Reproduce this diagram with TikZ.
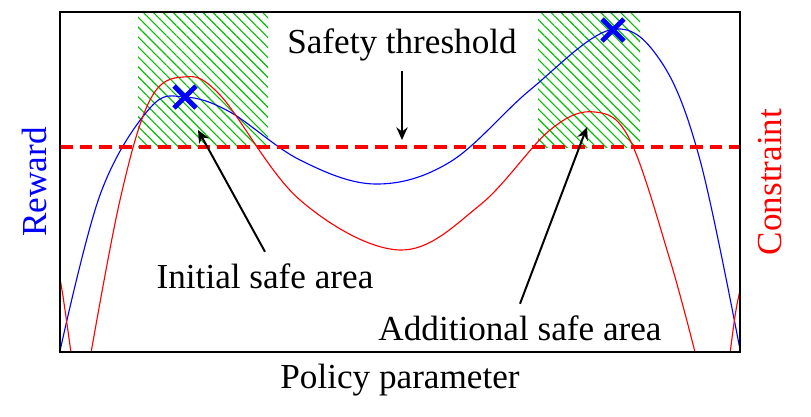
\documentclass[tikz,border=0pt]{standalone}
\usepackage{fontspec}
\setmainfont{Liberation Serif}
\usetikzlibrary{arrows.meta, patterns.meta}

\begin{document}
\begin{tikzpicture}[
        x=0.025cm, y=-0.025cm,
        label/.style={font=\fontsize{25}{29}\selectfont, inner sep=1pt},
        arrow/.style={-{Stealth[length=9pt,width=8pt]}, line width=1.4pt},
        safe/.style={pattern={Lines[angle=-45,distance=5pt,line width=0.8pt]}, pattern color=green!75!black},
        marker/.style={blue, line width=3.5pt}
    ]
        \useasboundingbox (0,0) rectangle (811,416);

        % --- Safe areas ---
        \fill[safe] (138,12) rectangle (268,147);
        \fill[safe] (538,12) rectangle (640,147);

        % --- Curves ---
        \begin{scope}
            \clip (60,12) rectangle (740,352);
            \draw[blue, thick] plot[smooth, tension=0.6] coordinates {(58,360) (100,195) (150,108) (185,97) (230,112) (300,160) (375,184) (450,162) (530,90) (610,30) (660,60) (700,160) (742,360)};
            \draw[red, thick] plot[smooth, tension=0.6] coordinates {(55,255) (62,290) (72,360)};
            \draw[red, thick] plot[smooth, tension=0.6] coordinates {(88,370) (120,200) (150,100) (183,77) (220,95) (300,200) (400,250) (480,205) (550,130) (595,112) (630,140) (670,260) (697,360)};
            \draw[red, thick] plot[smooth, tension=0.6] coordinates {(728,370) (736,310) (745,270)};
        \end{scope}

        % --- Threshold ---
        \draw[red, dashed, line width=2.2pt, dash pattern=on 9pt off 5pt] (60,147) -- (740,147);
        \draw[thick] (60,12) rectangle (740,352);

        % --- Optima ---
        \foreach \px/\py [count=\i] in {185/97, 613/30} {
            \draw[marker] (\px-11,\py-11) -- (\px+11,\py+11) (\px-11,\py+11) -- (\px+11,\py-11);
        }

        % --- Labels ---
        \node[label] (thr) at (402,45) {Safety threshold};
        \node[label] (init) at (265,276) {Initial safe area};
        \node[label] (add) at (520,328) {Additional safe area};
        \node[label] (xlab) at (400,380) {Policy parameter};
        \node[label, blue, rotate=90] (rew) at (34,182) {Reward};
        \node[label, red, rotate=90] (con) at (770,182) {Constraint};

        \coordinate (thrTip) at (402,140);
        \coordinate (initTip) at (198,130);
        \coordinate (addTip) at (587,127);

        % --- Connections ---
        \draw[arrow] (thr.south) ++(0,8) -- (thrTip);
        \draw[arrow] (init.north) ++(0,-10) -- (initTip);
        \draw[arrow] (add.north) ++(0,-10) -- (addTip);
\end{tikzpicture}
\end{document}
